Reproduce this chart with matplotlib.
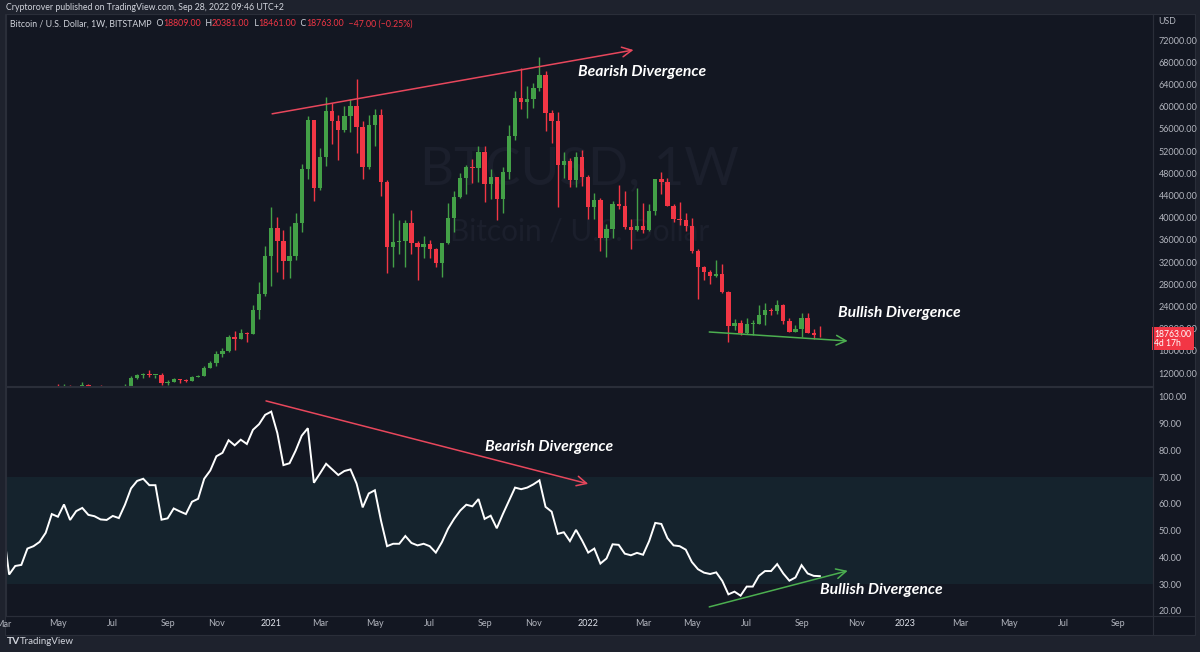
import datetime as dt
import matplotlib
matplotlib.use("Agg")
import matplotlib.pyplot as plt
import matplotlib.dates as mdates
import matplotlib.transforms as mtransforms
from matplotlib.patches import Rectangle
import pandas as pd

plt.rcParams["font.family"] = ["Lato", "DejaVu Sans"]

# weekly BTC/USD candles, Bitstamp, from the week of 2 Mar 2020
weeks = pd.date_range("2020-03-02", periods=135, freq="7D")
opens = [8530, 8030, 5370, 5830, 6240, 6860, 6880, 7130, 7700, 8890,
         8730, 9680, 8900, 9440, 9750, 9340, 9290, 9010, 9070, 9240,
         9160, 9700, 11100, 11640, 11800, 11680, 11700, 10260, 10430, 10860,
         10730, 10640, 11330, 11460, 12960, 13800, 15420, 15960, 18430, 18100,
         19260, 19030, 23350, 26240, 33080, 38190, 35800, 32240, 33000, 38980,
         48700, 57550, 45280, 50980, 59200, 57460, 55790, 58310, 60110, 56300,
         49190, 56690, 58490, 46470, 34650, 35660, 35780, 38980, 35480, 34650,
         35180, 34290, 31770, 35360, 39870, 43800, 47090, 49190, 48900, 51880,
         46060, 47390, 43300, 48280, 54690, 61610, 60890, 61380, 63420, 65700,
         58800, 57410, 49490, 50200, 46700, 50870, 47390, 41900, 43170, 36270,
         37890, 42450, 42090, 38360, 37700, 38420, 37800, 41250, 46960, 46360,
         42150, 39690, 39500, 38540, 33980, 31150, 30200, 29450, 29790, 26550,
         20470, 20960, 19150, 20780, 20830, 22400, 23350, 23200, 24250, 21370,
         19440, 19930, 21860, 19260, 18809]
highs = [9180, 8170, 6950, 6960, 7440, 7470, 7300, 7770, 9470, 9990,
         9940, 9860, 9740, 10400, 9980, 9590, 9800, 9370, 9460, 9330,
         10050, 11450, 11900, 12090, 12480, 11720, 12090, 10800, 11180, 10990,
         10930, 11490, 11720, 13350, 14090, 15970, 16490, 18800, 19480, 19920,
         19420, 24300, 28400, 34800, 42000, 40100, 37850, 38500, 40900, 49700,
         58350, 57550, 52600, 61800, 60600, 58500, 60100, 61300, 64900, 57400,
         58400, 59500, 59600, 46700, 40900, 39500, 39600, 41300, 35700, 36600,
         35900, 34600, 35400, 42600, 44800, 48100, 49400, 50500, 52900, 52900,
         48800, 47400, 49200, 56600, 62900, 67000, 63700, 64300, 69000, 66400,
         59300, 59100, 51900, 50700, 51900, 52100, 47600, 44500, 43500, 38900,
         43000, 45800, 44800, 39800, 45400, 42600, 42400, 47000, 48200, 47200,
         42500, 42900, 40800, 40000, 34300, 31300, 30600, 32400, 31700, 26800,
         21800, 21500, 22000, 21600, 24300, 24700, 23700, 25200, 24450, 21900,
         20600, 22800, 22800, 19900, 20381]
lows = [7630, 3850, 4450, 5690, 5860, 6730, 6470, 6780, 7660, 8520,
        8220, 8810, 8640, 9270, 9050, 9200, 8950, 8900, 9030, 9020,
        9130, 9650, 10970, 11130, 11290, 11120, 9900, 9900, 10330, 10150,
        10440, 10540, 11200, 11400, 12850, 13200, 14850, 15800, 16150, 18050,
        17620, 19000, 21800, 25900, 27700, 30250, 28900, 29200, 32300, 37400,
        47000, 43000, 44900, 49300, 53300, 50400, 55400, 55500, 51700, 47000,
        48800, 52900, 43900, 30000, 31100, 33400, 31100, 33400, 28800, 32700,
        32700, 31100, 29300, 35200, 37400, 43600, 44200, 46300, 46500, 42800,
        43400, 39600, 40800, 46900, 53900, 59500, 58000, 59700, 62800, 55600,
        53500, 42000, 47100, 45600, 45500, 45700, 39700, 39700, 34000, 32900,
        36300, 41600, 37900, 34300, 37500, 37200, 37600, 40500, 44300, 42100,
        39200, 38600, 37600, 33700, 25400, 28700, 28000, 29300, 26500, 17600,
        19700, 18800, 19000, 18900, 20750, 20700, 22400, 22700, 20800, 19400,
        19400, 18500, 19200, 18100, 18461]
closes = [8030, 5370, 5830, 6240, 6860, 6880, 7130, 7700, 8890, 8730,
          9680, 8900, 9440, 9750, 9340, 9290, 9010, 9070, 9240, 9160,
          9700, 11100, 11640, 11800, 11680, 11700, 10260, 10430, 10860, 10730,
          10640, 11330, 11460, 12960, 13800, 15420, 15960, 18430, 18100, 19260,
          19030, 23350, 26240, 33080, 38190, 35800, 32240, 33000, 38980, 48700,
          57550, 45280, 50980, 59200, 57460, 55790, 58310, 60110, 56300, 49190,
          56690, 58490, 46470, 34650, 35660, 35780, 38980, 35480, 34650, 35180,
          34290, 31770, 35360, 39870, 43800, 47090, 49190, 48900, 51880, 46060,
          47390, 43300, 48280, 54690, 61610, 60890, 61380, 63420, 65700, 58800,
          57410, 49490, 50200, 46700, 50870, 47390, 41900, 43170, 36270, 37890,
          42450, 42090, 38360, 37700, 38420, 37800, 41250, 46960, 46360, 42150,
          39690, 39500, 38540, 33980, 31150, 30200, 29450, 29790, 26550, 20470,
          20960, 19150, 20780, 20830, 22400, 23350, 23200, 24250, 21370, 19440,
          19930, 21860, 19260, 18810, 18763]

# weekly RSI
rsi = [51.0, 33.6, 36.8, 37.2, 43.3, 44.2, 45.8, 49.2, 56.2, 55.2,
       59.8, 54.0, 57.3, 58.5, 55.9, 55.4, 54.2, 54.0, 55.5, 54.7,
       59.7, 65.8, 68.6, 69.4, 67.0, 67.0, 54.1, 54.6, 58.3, 57.2,
       56.2, 60.8, 61.9, 69.4, 72.5, 77.8, 79.1, 83.8, 81.9, 84.0,
       82.4, 87.7, 89.8, 93.3, 94.5, 86.5, 74.5, 75.2, 79.9, 85.5,
       88.3, 67.9, 71.4, 75.0, 72.9, 70.8, 72.3, 72.9, 67.6, 58.7,
       63.9, 65.1, 53.8, 44.2, 45.1, 45.1, 48.0, 45.4, 44.5, 45.1,
       44.2, 41.8, 45.7, 50.7, 54.4, 57.5, 59.7, 59.1, 61.8, 54.4,
       55.6, 50.9, 56.2, 61.2, 66.1, 65.5, 66.1, 67.3, 68.8, 58.9,
       57.1, 48.8, 49.4, 46.1, 50.3, 46.3, 41.8, 43.3, 37.7, 39.6,
       44.9, 44.7, 41.4, 40.8, 41.7, 41.0, 46.1, 52.9, 52.5, 47.2,
       44.5, 44.2, 42.9, 38.3, 35.6, 34.3, 33.8, 34.4, 31.2, 26.2,
       27.2, 25.7, 29.1, 29.1, 33.1, 34.9, 34.9, 37.5, 34.0, 31.3,
       32.5, 37.1, 34.0, 33.1, 33.0]

# drawn trend lines (date, value)
bear_price_dates = ["2021-01-05", "2022-02-24"]
bear_price_vals = [58700, 70200]
bull_price_dates = ["2022-05-22", "2022-10-28"]
bull_price_vals = [19390, 17770]
bear_rsi_dates = ["2020-12-29", "2022-01-03"]
bear_rsi_vals = [98.5, 67.5]
bull_rsi_dates = ["2022-05-22", "2022-10-28"]
bull_rsi_vals = [21.5, 35.0]

tick_months = ["2020-03", "2020-05", "2020-07", "2020-09", "2020-11", "2021-01",
               "2021-03", "2021-05", "2021-07", "2021-09", "2021-11", "2022-01",
               "2022-03", "2022-05", "2022-07", "2022-09", "2022-11", "2023-01",
               "2023-03", "2023-05", "2023-07", "2023-09"]
tick_labels = ["Mar", "May", "Jul", "Sep", "Nov", "2021", "Mar", "May", "Jul", "Sep",
               "Nov", "2022", "Mar", "May", "Jul", "Sep", "Nov", "2023", "Mar", "May",
               "Jul", "Sep"]

price_ticks = list(range(12000, 76000, 4000))
rsi_ticks = list(range(20, 101, 10))

BG = "#131722"
PANEL = "#1e222d"
BORDER = "#2a2e39"
TXT = "#b2b5be"
UP = "#43a047"
DOWN = "#f23645"

W, H = 1200, 652
fig = plt.figure(figsize=(12, 6.52), dpi=100, facecolor=PANEL)


def fx(px):
    return px / W


def fy(py):
    return 1 - py / H


# chart area background (price + rsi + time axis)
fig.add_artist(Rectangle((fx(5), fy(635)), fx(1190), (635 - 14) / H,
                         transform=fig.transFigure, fc=BG, ec=BORDER, lw=0.8, zorder=-10))

ax = fig.add_axes([fx(6), fy(386), fx(1147), 372 / H], facecolor=BG)
ax2 = fig.add_axes([fx(6), fy(616), fx(1147), 229 / H], facecolor=BG, sharex=ax)

x = mdates.date2num(weeks)
colors = [UP if c >= o else DOWN for o, c in zip(opens, closes)]
ax.vlines(x, lows, highs, colors=colors, lw=1)
bottoms = [min(o, c) for o, c in zip(opens, closes)]
heights = [max(abs(c - o), 150) for o, c in zip(opens, closes)]
ax.bar(x, heights, bottom=bottoms, width=5.0, color=colors, linewidth=0)

ax.set_ylim(9658, 76685)
x0 = x[0] + 3.4
x1 = x[0] + 1320.6
ax.set_xlim(x0, x1)

# watermark
ax.text(0.5, 0.58, "BTCUSD, 1W", transform=ax.transAxes, ha="center", va="center",
        fontsize=38, color="#1b1f2c", zorder=0)
ax.text(0.5, 0.414, "Bitcoin / U.S. Dollar", transform=ax.transAxes, ha="center",
        va="center", fontsize=21.4, color="#1b1f2c", zorder=0)

# trend lines with arrows
arrow_kw = dict(arrowstyle="->,head_length=0.7,head_width=0.35", lw=1.1, shrinkA=0, shrinkB=0)
for a, ds, vs, col in [(ax, bear_price_dates, bear_price_vals, "#e8475c"),
                       (ax, bull_price_dates, bull_price_vals, "#4caf50"),
                       (ax2, bear_rsi_dates, bear_rsi_vals, "#e8475c"),
                       (ax2, bull_rsi_dates, bull_rsi_vals, "#4caf50")]:
    d0, d1 = mdates.date2num(pd.to_datetime(ds))
    a.annotate("", xy=(d1, vs[1]), xytext=(d0, vs[0]),
               arrowprops=dict(color=col, **arrow_kw), annotation_clip=False)

lab_kw = dict(fontsize=11.3, fontweight="bold", fontstyle="italic", color="white",
              ha="left", va="center")
ax.text(mdates.date2num(pd.Timestamp("2021-12-22")), 66234, "Bearish Divergence", **lab_kw)
ax.text(mdates.date2num(pd.Timestamp("2022-10-17")), 22811, "Bullish Divergence", **lab_kw)
ax2.text(mdates.date2num(pd.Timestamp("2021-09-07")), 81.3, "Bearish Divergence", **lab_kw)
ax2.text(mdates.date2num(pd.Timestamp("2022-09-26")), 27.9, "Bullish Divergence", **lab_kw)

# rsi pane
ax2.axhspan(30, 70, color="#15232d", lw=0, zorder=0)
ax2.plot(x, rsi, color="white", lw=1.4, solid_joinstyle="miter")
ax2.set_ylim(18.1, 103.7)

for a in (ax, ax2):
    for s in a.spines.values():
        s.set_color(BORDER)
        s.set_linewidth(0.8)
    a.yaxis.tick_right()
    a.tick_params(axis="y", length=0, pad=4, labelsize=6.5, labelcolor=TXT)

ax.set_yticks(price_ticks)
ax.set_yticklabels([f"{v:.2f}" for v in price_ticks])
ax2.set_yticks(rsi_ticks)
ax2.set_yticklabels([f"{v:.2f}" for v in rsi_ticks])
ax.tick_params(axis="x", bottom=False, labelbottom=False)

tick_pos = []
for m in tick_months:
    d = pd.Timestamp(m + "-01")
    d = d + pd.Timedelta(days=(7 - d.weekday()) % 7)
    tick_pos.append(mdates.date2num(d))
ax2.set_xticks(tick_pos[1:])
ax2.set_xticklabels(tick_labels[1:])
ax2.tick_params(axis="x", length=0, pad=2.5, labelsize=6.5, labelcolor=TXT)
for lab in ax2.get_xticklabels():
    if lab.get_text().isdigit():
        lab.set_color("#e0e3eb")
ax2.set_xlim(x0, x1)
# first label sits half outside the pane
ax2.annotate(tick_labels[0], xy=(tick_pos[0], 0), xycoords=("data", "axes fraction"),
             xytext=(0, -3), textcoords="offset points", ha="center", va="top",
             fontsize=6.5, color=TXT, annotation_clip=False)

# separators
fig.add_artist(plt.Line2D([fx(5), fx(1195)], [fy(616), fy(616)], color=BORDER, lw=0.8))
fig.add_artist(plt.Line2D([fx(1153), fx(1153)], [fy(14), fy(635)], color=BORDER, lw=0.8))

# last price tag
blend = mtransforms.blended_transform_factory(ax.transAxes, ax.transData)
ax.annotate("18763.00\n4d 17h", xy=(1.0, closes[-1]), xycoords=blend, xytext=(1, 4),
            textcoords="offset points", ha="left", va="top", fontsize=6.2, color="white",
            linespacing=1.0, annotation_clip=False, zorder=5,
            bbox=dict(boxstyle="square,pad=0.3", fc=DOWN, ec="none"))

fig.text(fx(1158), fy(21), "USD", fontsize=6.3, color=TXT, va="center")

# header
fig.text(fx(6), fy(7), "Cryptorover published on TradingView.com, Sep 28, 2022 09:46 UTC+2",
         fontsize=6.3, color="#d1d4dc", va="center")

parts = [("Bitcoin / U.S. Dollar, 1W, BITSTAMP", "#d1d4dc"), ("  O", "#d1d4dc"),
         ("18809.00", DOWN), ("  H", "#d1d4dc"), ("20381.00", DOWN), ("  L", "#d1d4dc"),
         ("18461.00", DOWN), ("  C", "#d1d4dc"), ("18763.00", DOWN),
         ("  \u221247.00 (\u22120.25%)", DOWN)]
t = fig.text(fx(10), fy(24), parts[0][0], fontsize=6.3, color=parts[0][1], va="center")
for s, c in parts[1:]:
    t = ax.annotate(s, xy=(1, 0.5), xycoords=t, ha="left", va="center", fontsize=6.3,
                    color=c, annotation_clip=False)

# footer logo
fig.text(fx(7), fy(642), "TV", fontsize=7.5, fontweight="bold", color="#d1d4dc", va="center")
fig.text(fx(20), fy(642), "TradingView", fontsize=7, color="#d1d4dc", va="center")

fig.savefig("out.png", dpi=100, facecolor=PANEL)
